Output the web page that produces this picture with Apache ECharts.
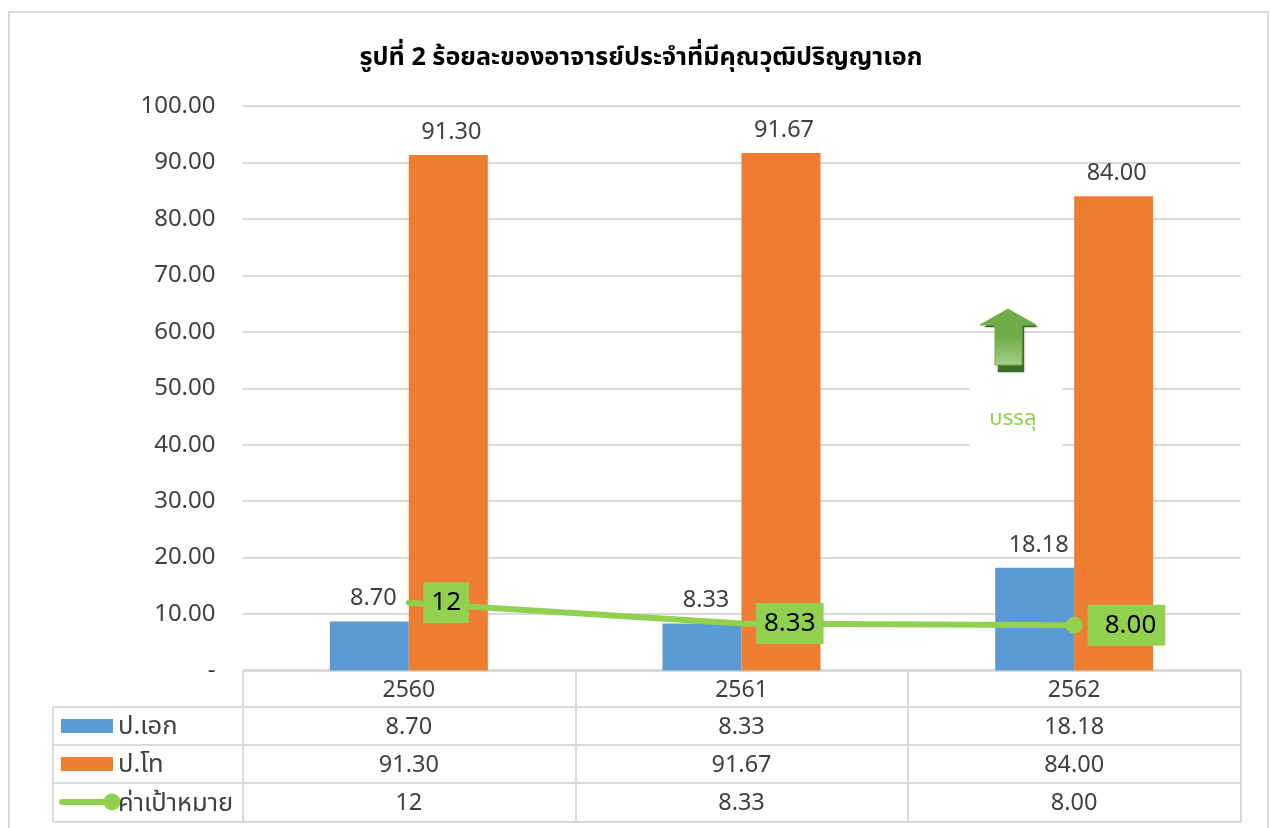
<!DOCTYPE html>
<html>
<head>
<meta charset="utf-8">
<title>รูปที่ 2</title>
<script src="https://cdn.jsdelivr.net/npm/echarts@6/dist/echarts.min.js"></script>
<style>
  html, body { margin: 0; padding: 0; background: #fff; }
  #main { width: 1271px; height: 828px; }
</style>
</head>
<body>
<div id="main"></div>
<script>
// ข้อมูลของกราฟ
var years = ["2560", "2561", "2562"];
var phdValues = [8.70, 8.33, 18.18];
var masterValues = [91.30, 91.67, 84.00];
var targetValues = [12, 8.33, 8.00];
var targetLabels = ["12", "8.33", "8.00"];
var seriesNames = ["ป.เอก", "ป.โท", "ค่าเป้าหมาย"];
var titleText = "รูปที่ 2 ร้อยละของอาจารย์ประจำที่มีคุณวุฒิปริญญาเอก";
var noteText = "บรรลุ";

var FONT = "'Noto Sans', 'Noto Sans Thai', 'DejaVu Sans', sans-serif";
var GREY = "#d9d9d9";
var TEXT = "#404040";
var BLUE = "#5b9bd5";
var ORANGE = "#ed7d31";
var GREEN = "#92d050";

var chart = echarts.init(document.getElementById("main"));

// กล่องป้ายของเส้นเป้าหมาย แต่ละจุดกว้างไม่เท่ากัน
var targetPadding = [[8, 8, 7, 8], [8, 8, 7, 8], [8, 9, 7, 17]];
var targetDistance = [14, 14, 5];

chart.setOption({
  animation: false,
  title: {
    text: titleText,
    left: 636,
    textAlign: "center",
    top: 40,
    textStyle: { fontFamily: FONT, fontSize: 25.2, fontWeight: "bold", color: "#000" }
  },
  grid: { left: 242.5, right: 30.5, top: 106, height: 564.5 },
  xAxis: {
    type: "category",
    data: years,
    axisTick: { show: false },
    axisLine: { lineStyle: { color: GREY, width: 2 } },
    axisLabel: { color: TEXT, fontFamily: FONT, fontSize: 23, margin: 8 }
  },
  yAxis: {
    type: "value",
    min: 0,
    max: 100,
    interval: 10,
    axisLine: { show: false },
    axisTick: { show: false },
    splitLine: { lineStyle: { color: GREY, width: 2 } },
    axisLabel: {
      color: TEXT,
      fontFamily: FONT,
      fontSize: 24,
      margin: 27,
      padding: [6, 0, 0, 0],
      formatter: function(v) { return v === 0 ? "-" : v.toFixed(2); }
    }
  },
  series: [
    {
      name: seriesNames[0],
      type: "bar",
      data: phdValues,
      barWidth: 79,
      barGap: 0,
      itemStyle: { color: BLUE },
      label: {
        show: true, position: "top", distance: 11, offset: [4, 0],
        color: TEXT, fontFamily: FONT, fontSize: 23.5,
        formatter: function(p) { return p.value.toFixed(2); }
      }
    },
    {
      name: seriesNames[1],
      type: "bar",
      data: masterValues,
      barWidth: 79,
      itemStyle: { color: ORANGE },
      label: {
        show: true, position: "top", distance: 11, offset: [3, 0],
        color: TEXT, fontFamily: FONT, fontSize: 23.5,
        formatter: function(p) { return p.value.toFixed(2); }
      }
    },
    {
      name: seriesNames[2],
      type: "line",
      z: 5,
      showAllSymbol: true,
      data: targetValues.map(function(v, i) {
        return {
          value: v,
          symbol: "circle",
          // แสดงวงกลมเฉพาะจุดสุดท้าย เหมือนต้นฉบับ
          symbolSize: i === targetValues.length - 1 ? 17 : 1,
          label: {
            show: true,
            position: "right",
            distance: targetDistance[i],
            padding: targetPadding[i],
            backgroundColor: GREEN,
            color: "#000",
            fontFamily: FONT,
            fontSize: 26,
            formatter: targetLabels[i]
          }
        };
      }),
      lineStyle: { color: GREEN, width: 6, cap: "round" },
      itemStyle: { color: GREEN }
    }
  ]
});

// ตารางข้อมูลด้านล่างกราฟ
function buildTable() {
  var rowLines = [670, 707, 745, 783, 822];
  var colLines = [243, 576, 908, 1241];
  var legendLeft = 53;
  var els = [];

  function line(x1, y1, x2, y2) {
    els.push({
      type: "line", silent: true, z: 1,
      shape: { x1: x1, y1: y1, x2: x2, y2: y2 },
      style: { stroke: GREY, lineWidth: 2 }
    });
  }
  function text(str, x, y, align, size) {
    els.push({
      type: "text", silent: true, z: 10,
      style: {
        text: str, x: x, y: y, align: align, verticalAlign: "middle",
        fill: TEXT, font: size + "px " + FONT
      }
    });
  }

  // กรอบนอก
  els.push({
    type: "polyline", silent: true, z: 0,
    shape: { points: [[9, 828], [9, 12], [1268, 12], [1268, 828]] },
    style: { stroke: GREY, lineWidth: 2, fill: null }
  });

  rowLines.forEach(function(y, i) {
    line(i === 0 ? colLines[0] : legendLeft, y, colLines[3], y);
  });
  colLines.forEach(function(x) { line(x, rowLines[0], x, rowLines[4]); });
  line(legendLeft, rowLines[1], legendLeft, rowLines[4]);

  // ค่าในตาราง
  var rows = [
    phdValues.map(function(v) { return v.toFixed(2); }),
    masterValues.map(function(v) { return v.toFixed(2); }),
    targetLabels
  ];
  rows.forEach(function(row, r) {
    var y = (rowLines[r + 1] + rowLines[r + 2]) / 2 + 1;
    text(seriesNames[r], 118, y, "left", 25.5);
    row.forEach(function(s, c) {
      var x = chart.convertToPixel({ xAxisIndex: 0 }, years[c]);
      text(s, x, y, "center", 23.5);
    });
  });

  // สัญลักษณ์คำอธิบาย
  els.push({ type: "rect", silent: true, z: 9, shape: { x: 61, y: 719, width: 52, height: 14 }, style: { fill: BLUE } });
  els.push({ type: "rect", silent: true, z: 9, shape: { x: 61, y: 757, width: 52, height: 14 }, style: { fill: ORANGE } });
  els.push({
    type: "line", silent: true, z: 9,
    shape: { x1: 62, y1: 802, x2: 112, y2: 802 },
    style: { stroke: GREEN, lineWidth: 6, lineCap: "round" }
  });
  els.push({ type: "circle", silent: true, z: 9, shape: { cx: 112, cy: 802, r: 8.5 }, style: { fill: GREEN } });

  // กล่องบรรลุและลูกศร
  els.push({ type: "rect", silent: true, z: 3, shape: { x: 970, y: 376, width: 92, height: 92 }, style: { fill: "#fff" } });
  els.push({
    type: "text", silent: true, z: 4,
    style: { text: noteText, x: 1013, y: 419, align: "center", verticalAlign: "middle", fill: GREEN, font: "22px " + FONT }
  });
  els.push({
    type: "polygon", silent: true, z: 4,
    shape: { points: [[984, 327], [1010, 312], [1038, 327], [1024, 327], [1024, 372], [998, 372], [998, 327]] },
    style: { fill: "#3f6b2b", shadowBlur: 2, shadowColor: "#3f6b2b" }
  });
  els.push({
    type: "polygon", silent: true, z: 5,
    shape: { points: [[980, 325], [1008, 309], [1036, 325], [1022, 325], [1022, 365], [995, 365], [995, 325]] },
    style: {
      stroke: "#70ad47",
      lineWidth: 1,
      fill: new echarts.graphic.LinearGradient(0, 0, 0, 1, [
        { offset: 0, color: "#70ad47" },
        { offset: 0.5, color: "#70ad47" },
        { offset: 1, color: "#a5cf8b" }
      ])
    }
  });
  return els;
}

chart.setOption({ graphic: { elements: buildTable() } });
</script>
</body>
</html>
